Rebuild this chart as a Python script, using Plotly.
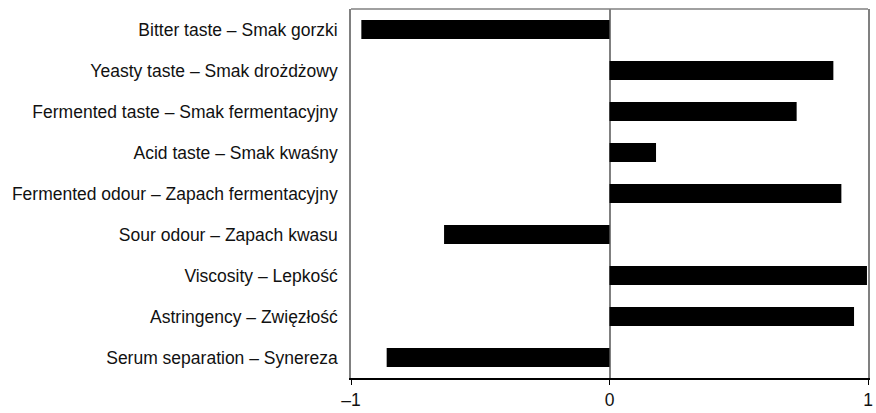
import plotly.graph_objects as go

categories = [
    "Bitter taste – Smak gorzki",
    "Yeasty taste – Smak drożdżowy",
    "Fermented taste – Smak fermentacyjny",
    "Acid taste – Smak kwaśny",
    "Fermented odour – Zapach fermentacyjny",
    "Sour odour – Zapach kwasu",
    "Viscosity – Lepkość",
    "Astringency – Zwięzłość",
    "Serum separation – Synereza",
]
values = [-0.96, 0.866, 0.724, 0.18, 0.897, -0.64, 0.996, 0.946, -0.862]
x_ticks = [-1, 0, 1]
x_ticklabels = ["–1", "0", "1"]

fig = go.Figure(go.Bar(
    y=categories, x=values, orientation="h",
    marker=dict(color="black", line=dict(width=0)),
))

fig.update_layout(
    width=876, height=413,
    margin=dict(l=351, r=3, t=9, b=32),
    paper_bgcolor="white", plot_bgcolor="white",
    bargap=0.54,
    showlegend=False,
    font=dict(family="Liberation Sans, Arial, sans-serif", size=17.5, color="#111"),
    shapes=[dict(type="line", xref="paper", yref="paper", x0=0, x1=1, y0=1, y1=1,
                 line=dict(color="#808080", width=1.5))],
)
fig.update_xaxes(
    range=[-1, 1], tickvals=x_ticks, ticktext=x_ticklabels,
    showgrid=False, zeroline=True, zerolinecolor="#808080", zerolinewidth=1.5,
    showline=True, linecolor="black", linewidth=1.5,
    ticks="outside", ticklen=5, tickcolor="black", tickwidth=1,
    tickfont=dict(size=17.5, color="#111"), ticklabeloverflow="allow",
)
fig.update_yaxes(
    autorange="reversed", showgrid=False,
    showline=True, linecolor="#808080", linewidth=1.5, mirror=True,
    ticks="", ticklabelstandoff=8,
    tickfont=dict(size=17.5, color="#111"),
)

fig.write_html(
    "out.html",
    config={"displayModeBar": False},
    post_script="document.body.style.margin='0';document.body.style.overflow='hidden';",
)
